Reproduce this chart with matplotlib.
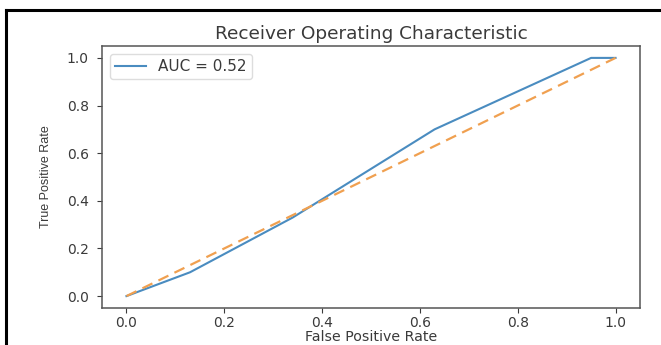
import matplotlib
matplotlib.use("Agg")
import matplotlib.pyplot as plt
from matplotlib.lines import Line2D

fpr = [0.0, 0.13, 0.34, 0.63, 0.95, 1.0]
tpr = [0.0, 0.10, 0.33, 0.70, 1.00, 1.0]
diag = [0.0, 1.0]
auc_label = "AUC = 0.52"
title = "Receiver Operating Characteristic"
xlabel = "False Positive Rate"
ylabel = "True Positive Rate"

text_color = "#3a3a3a"
plt.rcParams['font.family'] = ['DejaVu Sans']

fig = plt.figure(figsize=(6.61, 3.45), dpi=100)
ax = fig.add_axes([102/661, 1-308/345, (640-102)/661, (308-46)/345])

ax.plot(fpr, tpr, color="#4a8cc0", lw=1.5, label=auc_label)
ax.plot(diag, diag, color="#f0a050", lw=1.6, ls=(0, (5, 3)))

ax.set_title(title, fontsize=13.3, color=text_color, pad=5)
ax.set_xlabel(xlabel, fontsize=10.2, color=text_color, labelpad=-0.5)
ax.set_ylabel(ylabel, fontsize=9, color=text_color, labelpad=11,
              family=['Liberation Sans', 'DejaVu Sans'])
ax.tick_params(labelsize=10, colors=text_color, length=3.5)
ax.tick_params(axis='x', pad=2.5)
ax.tick_params(axis='y', pad=6)
for s in ax.spines.values():
    s.set_color("#555555")
    s.set_linewidth(1.1)
ax.legend(loc="upper left", fontsize=11, labelcolor=text_color, handlelength=2.0,
          borderpad=0.35, handletextpad=0.8, framealpha=1, edgecolor="#dddddd")

# screenshot frame
fig.add_artist(Line2D([6/661, 6/661], [0, 1-10/345], transform=fig.transFigure, color="black", lw=2.2))
fig.add_artist(Line2D([6/661, 1], [1-10/345, 1-10/345], transform=fig.transFigure, color="black", lw=2.2))

fig.savefig("out.png", dpi=100)
